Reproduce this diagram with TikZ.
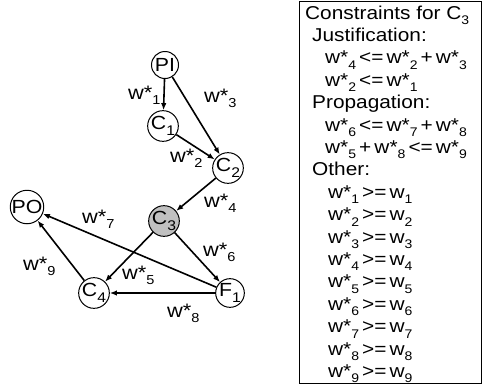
\documentclass[tikz,border=0pt]{standalone}
\usepackage{fontspec}
\setmainfont{Liberation Sans}[FakeStretch=1.12]
\usetikzlibrary{arrows.meta}
% lowered index digit in the current size setting
\newcommand\subsize{11}
\newcommand\lsub[1]{\raisebox{-0.3em}{\fontsize{\subsize}{\subsize}\selectfont #1}}
\begin{document}
\begin{tikzpicture}[x=1pt,y=-1pt,
  vert/.style={circle,draw,line width=1pt,minimum size=27pt,inner sep=0pt,
    font=\fontsize{19}{19}\selectfont\renewcommand\subsize{14}},
  edge/.style={-{Latex[length=7pt,width=5.5pt]},line width=1.6pt},
  wlab/.style={anchor=base west,inner sep=0pt,
    font=\fontsize{19.5}{19.5}\selectfont\renewcommand\subsize{13}},
  cline/.style={anchor=base west,inner sep=0pt,
    font=\fontsize{18.6}{18.6}\selectfont\renewcommand\subsize{12.5}}]
\useasboundingbox (0,0) rectangle (482,386);

% graph
\node[vert] (PI) at (165,65) {PI};
\node[vert] (C1) at (163,126) {C\lsub{1}};
\node[vert] (C2) at (228,168) {C\lsub{2}};
\node[vert,fill={rgb,255:red,192;green,192;blue,192}] (C3) at (164,221) {C\lsub{3}};
\node[vert] (PO) at (27,207) {PO};
\node[vert] (C4) at (94,293) {C\lsub{4}};
\node[vert] (F1) at (230,293) {F\lsub{1}};

\draw[edge] (PI) -- (C1);
\draw[edge] (PI) -- (C2);
\draw[edge] (C1) -- (C2);
\draw[edge] (C2) -- (C3);
\draw[edge] (C3) -- (C4);
\draw[edge] (C3) -- (F1);
\draw[edge] (F1) -- (C4);
\draw[edge] (F1) -- (PO);
\draw[edge] (C4) -- (PO);

\node[wlab] (w1) at (128,99) {w*\lsub{1}};
\node[wlab] (w3) at (204,102) {w*\lsub{3}};
\node[wlab] (w2) at (170,162) {w*\lsub{2}};
\node[wlab] (w4) at (204,207) {w*\lsub{4}};
\node[wlab] (w7) at (82,223) {w*\lsub{7}};
\node[wlab] (w6) at (203,256) {w*\lsub{6}};
\node[wlab] (w9) at (23,270) {w*\lsub{9}};
\node[wlab] (w5) at (122,279) {w*\lsub{5}};
\node[wlab] (w8) at (167,317) {w*\lsub{8}};

% constraint list
\draw[line width=1pt] (299,1) rectangle (481,383);
\node[cline] (title) at (305,19) {Constraints for C\lsub{3}};
\node[cline] (just) at (312,41.4) {Justification:};
\node[cline] (j1) at (325,63.8) {w*\lsub{4}\,<=\,w*\lsub{2}\,+\,w*\lsub{3}};
\node[cline] (j2) at (325,86.2) {w*\lsub{2}\,<=\,w*\lsub{1}};
\node[cline] (prop) at (312,108.6) {Propagation:};
\node[cline] (p1) at (325,131) {w*\lsub{6}\,<=\,w*\lsub{7}\,+\,w*\lsub{8}};
\node[cline] (p2) at (325,153.4) {w*\lsub{5}\,+\,w*\lsub{8}\,<=\,w*\lsub{9}};
\node[cline] (other) at (312,175.8) {Other:};
\foreach \i in {1,...,9}
  \node[cline] (o\i) at (328,175.8+22.4*\i) {w*\lsub{\i}\,>=\,w\lsub{\i}};
\end{tikzpicture}
\end{document}
